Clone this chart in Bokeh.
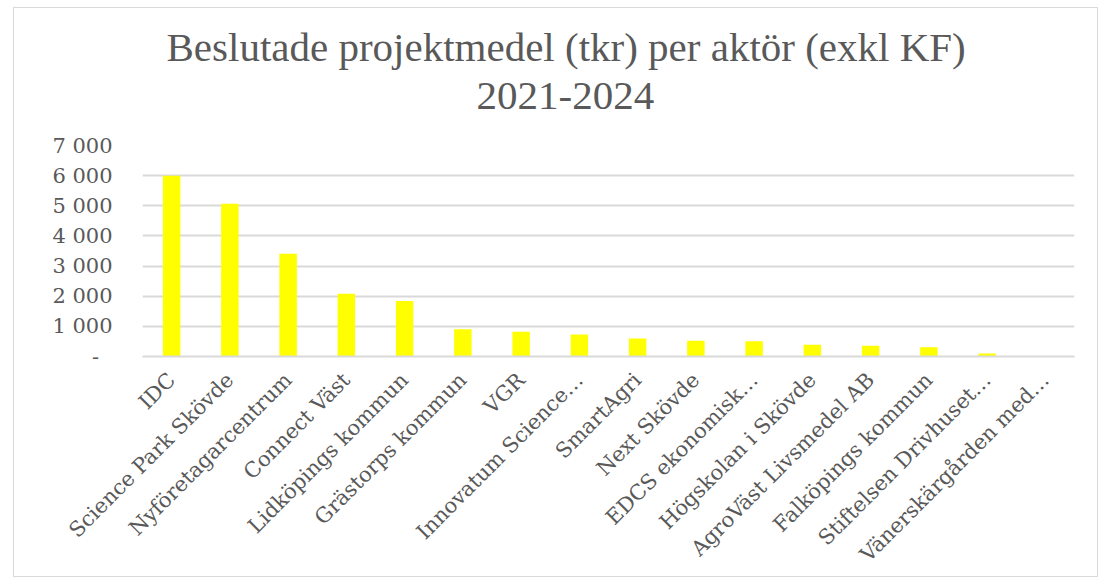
import math
from bokeh.plotting import figure
from bokeh.models import Range1d, FactorRange, Title, FixedTicker
from bokeh.embed import file_html
from bokeh.resources import INLINE

categories = ["IDC", "Science Park Skövde", "Nyföretagarcentrum", "Connect Väst",
              "Lidköpings kommun", "Grästorps kommun", "VGR", "Innovatum Science…",
              "SmartAgri", "Next Skövde", "EDCS ekonomisk…", "Högskolan i Skövde",
              "AgroVäst Livsmedel AB", "Falköpings kommun", "Stiftelsen Drivhuset…",
              "Vänerskärgården med…"]
values = [6000, 5070, 3410, 2080, 1840, 900, 820, 730, 600, 520, 510, 390, 360, 310, 100, 10]
y_ticks = [0, 1000, 2000, 3000, 4000, 5000, 6000, 7000]
y_tick_labels = ["-\u00a0\u00a0", "1\u00a0000", "2\u00a0000", "3\u00a0000", "4\u00a0000",
                 "5\u00a0000", "6\u00a0000", "7\u00a0000"]
title_line1 = "Beslutade projektmedel (tkr) per aktör (exkl KF)"
title_line2 = "2021-2024"

GREY = "#595959"
GRID = "#d9d9d9"

p = figure(width=1085, height=570, x_range=FactorRange(*categories),
           y_range=Range1d(0, 7000), output_backend="svg", toolbar_location=None,
           min_border_left=128, min_border_right=25, min_border_top=137,
           min_border_bottom=222)
p.styles = {"border": "1px solid #d9d9d9", "margin-left": "13px", "margin-top": "7px"}

p.vbar(x=categories, top=values, width=0.30, color="#ffff00", line_color=None)

# spacer between plot area and the two title lines
p.add_layout(Title(text="\u00a0", text_font_size="1px", standoff=23), "above")
p.add_layout(Title(text=title_line2, align="left", text_font="Liberation Serif",
                   text_font_size="41px", text_font_style="normal", text_color=GREY,
                   offset=334, standoff=22), "above")
p.add_layout(Title(text=title_line1, align="left", text_font="Liberation Serif",
                   text_font_size="41px", text_font_style="normal", text_color=GREY,
                   offset=24, standoff=0), "above")

p.outline_line_color = None
p.xgrid.grid_line_color = None
p.ygrid.grid_line_color = GRID
p.ygrid.grid_line_width = 2

p.yaxis.ticker = FixedTicker(ticks=y_ticks)
p.yaxis.major_label_overrides = {t: l for t, l in zip(y_ticks, y_tick_labels)}
p.yaxis.axis_line_color = None
p.yaxis.major_tick_line_color = None
p.yaxis.minor_tick_line_color = None
p.yaxis.major_label_standoff = 24
p.yaxis.major_label_text_font = "DejaVu Serif"
p.yaxis.major_label_text_font_size = "21px"
p.yaxis.major_label_text_color = GREY

p.xaxis.axis_line_color = GRID
p.xaxis.axis_line_width = 2
p.xaxis.major_tick_line_color = None
p.xaxis.minor_tick_line_color = None
p.xaxis.major_label_orientation = math.pi / 4
p.xaxis.major_label_standoff = 14
p.xaxis.major_label_text_font = "DejaVu Serif"
p.xaxis.major_label_text_font_size = "21px"
p.xaxis.major_label_text_color = GREY

open("out.html", "w").write(file_html(p, INLINE))
